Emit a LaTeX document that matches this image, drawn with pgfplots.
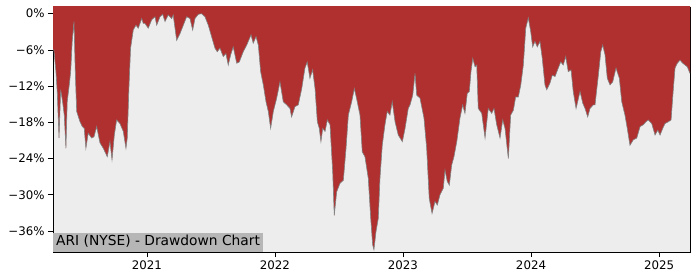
\documentclass[border=0pt]{standalone}
\usepackage{pgfplots}
\pgfplotsset{compat=1.18}
\usepgfplotslibrary{fillbetween}
\usepackage{pgfplotstable}
\usepackage{fontspec}
\setmainfont{DejaVu Sans}
\definecolor{ddred}{RGB}{176,48,48}
\definecolor{bggray}{RGB}{237,237,237}
\definecolor{boxgray}{RGB}{182,182,182}
\definecolor{edgegray}{RGB}{130,130,130}
\pgfplotstableread{
x y
2020.266 -6.0
2020.273 -6.0
2020.289 -9.6
2020.299 -12.9
2020.313 -20.6
2020.326 -12.6
2020.341 -14.6
2020.354 -16.8
2020.367 -22.3
2020.377 -14.6
2020.393 -11.8
2020.404 -9.6
2020.416 -4.6
2020.430 -1.3
2020.440 -9.6
2020.451 -16.2
2020.477 -17.9
2020.495 -18.7
2020.510 -19.0
2020.523 -22.3
2020.541 -19.8
2020.568 -20.6
2020.586 -20.4
2020.607 -18.7
2020.633 -21.4
2020.659 -22.3
2020.690 -23.7
2020.711 -21.2
2020.727 -24.2
2020.745 -20.1
2020.763 -17.6
2020.789 -18.2
2020.815 -19.5
2020.836 -22.3
2020.846 -20.6
2020.859 -12.3
2020.872 -5.7
2020.893 -2.7
2020.914 -1.9
2020.932 -2.4
2020.959 -0.8
2020.971 -1.6
2020.984 -1.6
2021.010 -2.4
2021.037 -1.0
2021.063 -0.5
2021.076 -1.9
2021.102 -0.5
2021.123 -0.1
2021.141 -1.3
2021.166 -0.2
2021.193 -0.8
2021.205 -0.2
2021.232 -4.4
2021.258 -3.3
2021.284 -1.9
2021.310 -0.5
2021.336 -0.8
2021.357 -2.7
2021.375 -0.8
2021.401 -0.1
2021.427 0.0
2021.453 -0.5
2021.479 -1.9
2021.505 -3.8
2021.531 -5.7
2021.549 -6.3
2021.570 -5.7
2021.596 -7.1
2021.617 -6.6
2021.635 -8.5
2021.654 -6.8
2021.674 -5.5
2021.701 -8.2
2021.721 -8.0
2021.752 -6.3
2021.779 -5.2
2021.813 -3.5
2021.830 -4.9
2021.852 -3.8
2021.870 -5.2
2021.888 -9.6
2021.909 -11.8
2021.930 -14.6
2021.948 -16.2
2021.966 -19.0
2021.987 -16.2
2022.013 -14.0
2022.039 -11.3
2022.065 -14.6
2022.091 -15.1
2022.117 -15.7
2022.130 -17.1
2022.156 -15.4
2022.182 -15.1
2022.209 -12.4
2022.234 -9.0
2022.252 -8.0
2022.273 -10.7
2022.294 -9.3
2022.313 -12.4
2022.331 -17.9
2022.346 -19.0
2022.359 -21.2
2022.373 -19.0
2022.391 -19.5
2022.409 -17.6
2022.430 -18.4
2022.451 -26.2
2022.463 -33.4
2022.482 -29.5
2022.508 -28.1
2022.534 -27.6
2022.555 -22.3
2022.573 -16.8
2022.599 -14.6
2022.620 -12.4
2022.643 -14.6
2022.664 -16.8
2022.682 -22.9
2022.703 -23.7
2022.729 -27.3
2022.748 -33.9
2022.763 -38.3
2022.773 -39.1
2022.789 -36.1
2022.807 -33.9
2022.820 -27.3
2022.838 -21.8
2022.859 -18.4
2022.877 -16.2
2022.898 -16.8
2022.916 -14.6
2022.938 -17.9
2022.963 -20.1
2022.995 -21.2
2023.016 -19.0
2023.041 -15.7
2023.055 -15.1
2023.076 -13.5
2023.094 -9.9
2023.107 -13.5
2023.133 -14.0
2023.164 -17.3
2023.185 -22.3
2023.205 -30.6
2023.227 -33.1
2023.250 -31.1
2023.268 -31.7
2023.289 -30.0
2023.315 -28.9
2023.328 -25.9
2023.346 -27.8
2023.362 -28.4
2023.380 -25.1
2023.398 -23.7
2023.420 -21.2
2023.445 -17.3
2023.466 -15.1
2023.484 -16.5
2023.502 -13.2
2023.518 -12.9
2023.531 -9.6
2023.545 -7.4
2023.563 -8.8
2023.576 -8.5
2023.588 -15.7
2023.615 -16.5
2023.641 -20.6
2023.666 -15.7
2023.693 -16.5
2023.711 -15.7
2023.732 -18.4
2023.758 -20.6
2023.779 -17.6
2023.797 -19.0
2023.823 -24.0
2023.841 -16.8
2023.862 -16.0
2023.880 -13.8
2023.901 -13.8
2023.920 -11.8
2023.940 -8.5
2023.959 -2.4
2023.979 -0.7
2023.998 -3.0
2024.013 -5.5
2024.031 -4.6
2024.049 -5.5
2024.070 -4.6
2024.088 -7.4
2024.109 -11.8
2024.123 -12.6
2024.148 -11.5
2024.166 -10.2
2024.188 -10.4
2024.213 -9.0
2024.232 -8.0
2024.252 -8.5
2024.271 -7.1
2024.291 -9.6
2024.313 -9.3
2024.330 -12.9
2024.352 -15.7
2024.383 -12.9
2024.404 -14.8
2024.422 -15.7
2024.443 -17.1
2024.461 -15.7
2024.487 -15.1
2024.500 -15.1
2024.526 -10.2
2024.545 -6.3
2024.560 -5.2
2024.578 -6.8
2024.596 -10.7
2024.617 -11.8
2024.638 -11.3
2024.664 -9.0
2024.690 -10.7
2024.709 -14.6
2024.734 -16.8
2024.752 -19.0
2024.773 -21.8
2024.799 -20.9
2024.826 -20.6
2024.852 -18.7
2024.877 -18.4
2024.898 -17.9
2024.916 -17.6
2024.943 -18.2
2024.969 -20.1
2024.990 -19.3
2025.008 -20.1
2025.029 -19.0
2025.047 -18.2
2025.073 -17.9
2025.094 -17.6
2025.112 -12.4
2025.125 -9.0
2025.143 -8.2
2025.164 -7.7
2025.185 -8.2
2025.203 -8.5
2025.221 -8.8
2025.242 -9.9
}\ddtable
\begin{document}
\begin{tikzpicture}
\begin{axis}[
  at={(53bp,28bp)}, anchor=south west,
  scale only axis, width=637bp, height=245bp,
  xmin=0.266, xmax=5.242,
  ymin=-39.48, ymax=1.11,
  axis background/.style={fill=bggray},
  axis line style={black, line width=0.8bp},
  tick style={black, line width=0.8bp},
  tick align=outside, major tick length=5bp,
  xtick pos=bottom, ytick pos=left,
  xtick={1,2,3,4,5},
  xticklabels={2021,2022,2023,2024,2025},
  ytick={0,-6,-12,-18,-24,-30,-36},
  yticklabels={0\%,−6\%,−12\%,−18\%,−24\%,−30\%,−36\%},
  ticklabel style={font=\fontsize{11.8bp}{14bp}\selectfont},
]
\addplot[name path=dd, draw=edgegray, line width=0.6bp] table[x expr=\thisrow{x}-2020,y=y] {\ddtable};
\addplot[name path=top, draw=none] coordinates {(0.266,2) (5.242,2)};
\addplot[fill=ddred, draw=none] fill between[of=dd and top];
\node[anchor=south west, fill=boxgray, inner xsep=3bp, inner ysep=3bp,
  text height=10bp, text depth=3bp, font=\fontsize{13.8bp}{16bp}\selectfont]
  at (rel axis cs:0,0) {ARI (NYSE) - Drawdown Chart};
\end{axis}
\pgfresetboundingbox
\useasboundingbox (0,0) rectangle (700bp,280bp);
\end{tikzpicture}
\end{document}
